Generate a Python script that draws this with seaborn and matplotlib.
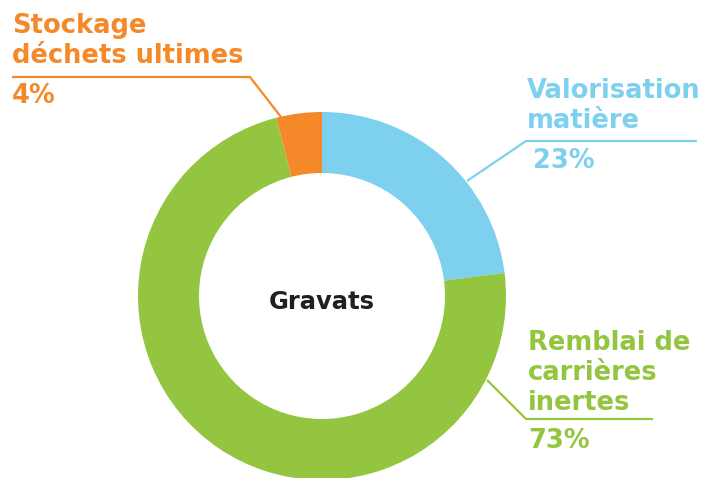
import matplotlib
matplotlib.use("Agg")
import matplotlib.pyplot as plt
import seaborn as sns

# data
categories = ["Valorisation\nmatière", "Remblai de\ncarrières\ninertes", "Stockage\ndéchets ultimes"]
shares = [23, 73, 4]
colors = ["#7dd0ee", "#94c540", "#f5892a"]
center_label = "Gravats"

sns.set_theme(style="white")
plt.rcParams["font.family"] = ["DejaVu Sans"]

W, H = 707, 478
fig = plt.figure(figsize=(W / 100, H / 100), dpi=100)
ax = fig.add_axes([0, 0, 1, 1])

cx, cy, r = 322, H - 296, 184
ax.pie(shares, colors=colors, startangle=90, counterclock=False,
       center=(cx, cy), radius=r, frame=True,
       wedgeprops=dict(width=r - 123, linewidth=0))
ax.set_xlim(0, W)
ax.set_ylim(0, H)
ax.set_aspect("equal")
ax.axis("off")

ax.text(cx, H - 302, center_label, ha="center", va="center",
        fontsize=17.5, fontweight="bold", color="#231f20")

# label layout: (text x, last baseline y, pct x, pct baseline y, leader points)
layout = [
    (527, 128, 533, 168, [(467, 181), (526, 141), (697, 141)]),
    (528, 410, 528, 448, [(487, 380), (526, 419), (653, 419)]),
    (12, 63, 12, 103, [(281, 117), (250, 77), (12, 77)]),
]

for cat, pct, col, (tx, ty, px, py, pts) in zip(categories, shares, colors, layout):
    ax.text(tx, H - ty, cat, ha="left", va="baseline", fontsize=18.5,
            fontweight="bold", color=col, linespacing=1.2)
    ax.text(px, H - py, f"{pct}%", ha="left", va="baseline", fontsize=18.5,
            fontweight="bold", color=col)
    ax.plot([p[0] for p in pts], [H - p[1] for p in pts], color=col, lw=1.6,
            solid_capstyle="butt")

fig.savefig("out.png", dpi=100)
